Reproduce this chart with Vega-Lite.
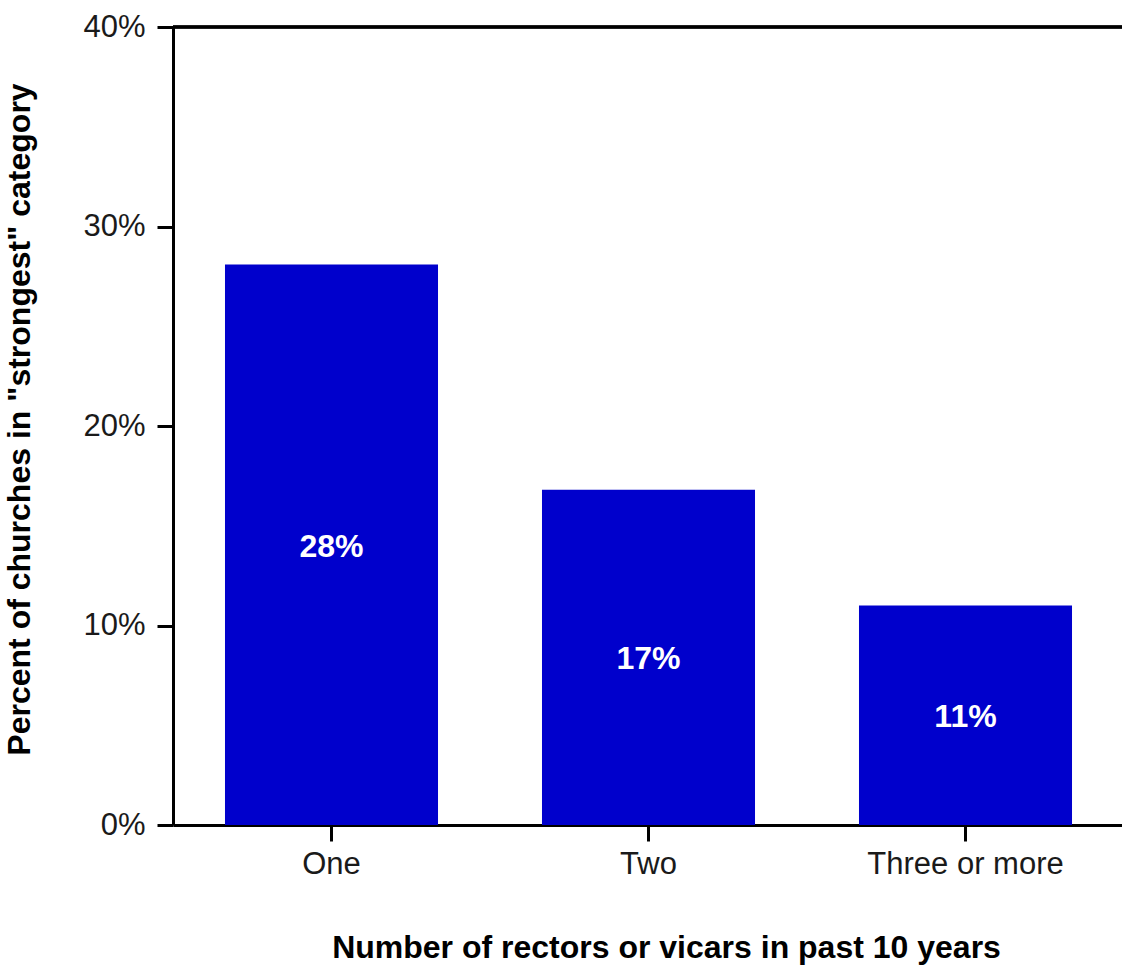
{
  "$schema": "https://vega.github.io/schema/vega-lite/v6.json",
  "autosize": "none",
  "width": 951,
  "height": 798,
  "padding": {"left": 173, "top": 27, "right": 0, "bottom": 140},
  "background": "white",
  "config": {
    "view": {"stroke": null},
    "font": "Liberation Sans"
  },
  "data": {
    "values": [
      {"category": "One", "value": 28.1, "label": "28%"},
      {"category": "Two", "value": 16.8, "label": "17%"},
      {"category": "Three or more", "value": 11.0, "label": "11%"}
    ]
  },
  "resolve": {"scale": {"y": "independent"}, "axis": {"y": "independent"}},
  "layer": [
    {
      "mark": {"type": "bar", "color": "#0000cc"},
      "encoding": {
        "x": {
          "field": "category",
          "type": "nominal",
          "sort": null,
          "scale": {"paddingInner": 0.328, "paddingOuter": 0.164},
          "axis": {
            "title": "Number of rectors or vicars in past 10 years",
            "titleFont": "Liberation Sans",
            "titleFontSize": 32,
            "titleFontWeight": "bold",
            "titleColor": "black",
            "titleX": 493,
            "titleY": 132,
            "titleBaseline": "alphabetic",
            "labelFont": "Liberation Sans",
            "labelFontSize": 31,
            "labelColor": "#1a1a1a",
            "labelAngle": 0,
            "labelLimit": 0,
            "labelPadding": 8,
            "domainColor": "black",
            "domainWidth": 3,
            "tickColor": "black",
            "tickWidth": 3,
            "tickSize": 16
          }
        },
        "y": {
          "field": "value",
          "type": "quantitative",
          "scale": {"domain": [0, 40], "nice": false},
          "axis": {
            "title": "Percent of churches in \"strongest\" category",
            "titleFont": "Liberation Sans",
            "titleFontSize": 32,
            "titleFontWeight": "bold",
            "titleColor": "black",
            "titleX": -137,
            "titleY": 392,
            "values": [0, 10, 20, 30, 40],
            "labelExpr": "datum.value + '%'",
            "labelFont": "Liberation Sans",
            "labelFontSize": 31,
            "labelColor": "#1a1a1a",
            "labelPadding": 12,
            "grid": false,
            "domainColor": "black",
            "domainWidth": 3,
            "tickColor": "black",
            "tickWidth": 3,
            "tickSize": 16
          }
        }
      }
    },
    {
      "mark": {"type": "rule", "color": "black", "strokeWidth": 3},
      "encoding": {
        "y": {"datum": 40, "type": "quantitative", "scale": {"domain": [0, 40], "nice": false}, "axis": null}
      }
    },
    {
      "mark": {"type": "text", "color": "white", "fontWeight": "bold", "fontSize": 32, "font": "Liberation Sans", "baseline": "middle", "dy": 2},
      "encoding": {
        "x": {"field": "category", "type": "nominal", "sort": null},
        "y": {"field": "value", "type": "quantitative", "scale": {"domain": [0, 80], "nice": false}, "axis": null},
        "text": {"field": "label"}
      }
    }
  ]
}
